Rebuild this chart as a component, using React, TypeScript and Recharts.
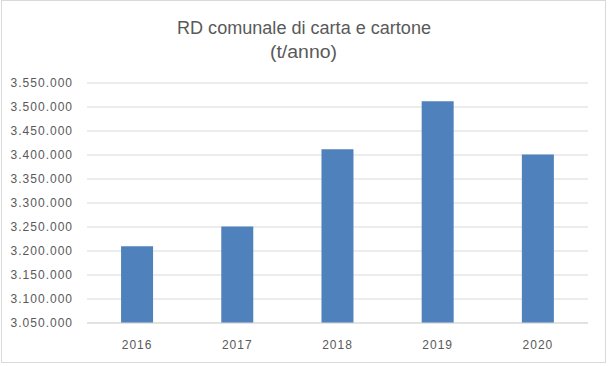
import React from 'react';
import { BarChart, Bar, XAxis, YAxis, CartesianGrid } from 'recharts';

const years = ['2016', '2017', '2018', '2019', '2020'];
const values = [3210000, 3251000, 3412000, 3512000, 3401000];
const yTicks = [3050000, 3100000, 3150000, 3200000, 3250000, 3300000, 3350000, 3400000, 3450000, 3500000, 3550000];
const titleLines = ['RD comunale di carta e cartone', '(t/anno)'];

const data = years.map((y, i) => ({ year: y, value: values[i] }));

const fmt = (v: number) => String(Math.round(v)).replace(/\B(?=(\d{3})+(?!\d))/g, '.');

const tickStyle = { fill: '#595959', fontSize: 12, fontFamily: 'Liberation Sans', letterSpacing: 1 };

export default function App() {
  return (
    <div style={{ position: 'absolute', left: 0, top: 0, width: 608, height: 366, background: '#fff' }}>
      <BarChart
        width={608}
        height={366}
        data={data}
        margin={{ top: 83, right: 20, bottom: 13, left: 0 }}
        barCategoryGap="34%"
      >
        <CartesianGrid vertical={false} stroke="#d9d9d9" strokeWidth={1} />
        <XAxis
          dataKey="year"
          axisLine={{ stroke: '#d9d9d9' }}
          tickLine={false}
          tickSize={0}
          tickMargin={17}
          height={30}
          tick={tickStyle}
        />
        <YAxis
          domain={[3050000, 3550000]}
          ticks={yTicks}
          tickFormatter={fmt}
          axisLine={false}
          tickLine={false}
          tickSize={0}
          tickMargin={14}
          width={87}
          tick={tickStyle}
          allowDataOverflow
        />
        <Bar dataKey="value" fill="#4F81BD" isAnimationActive={false} />
      </BarChart>
      <svg width={608} height={366} style={{ position: 'absolute', left: 0, top: 0, pointerEvents: 'none' }}>
        <rect x={1.5} y={0.5} width={604} height={362} fill="none" stroke="#d9d9d9" strokeWidth={1} />
        <text x={304} y={33.5} textAnchor="middle" fill="#595959" fontSize={17.5} fontFamily="Liberation Sans" textLength={254} lengthAdjust="spacingAndGlyphs">
          {titleLines[0]}
        </text>
        <text x={303.5} y={57.5} textAnchor="middle" fill="#595959" fontSize={17.5} fontFamily="Liberation Sans" textLength={67} lengthAdjust="spacingAndGlyphs">
          {titleLines[1]}
        </text>
      </svg>
    </div>
  );
}
